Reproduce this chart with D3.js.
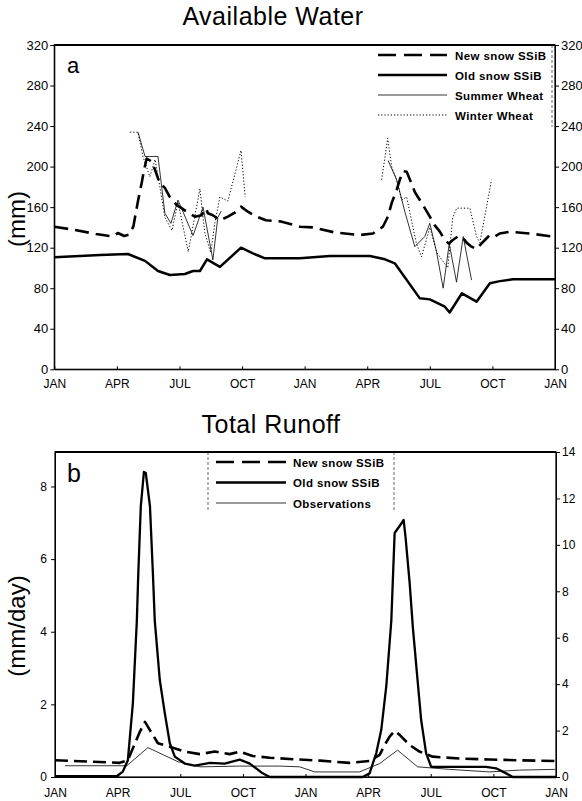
<!DOCTYPE html>
<html>
<head>
<meta charset="utf-8">
<script src="https://cdn.jsdelivr.net/npm/d3@7"></script>
<style>
  body { margin: 0; background: #fff; }
  svg { display: block; }
  text { fill: #000; }
</style>
</head>
<body>
<svg id="chart" width="582" height="801"></svg>
<script>
// ---------- DATA (month index 0 = JAN of year 1, 24 = JAN of year 3) ----------
const monthLabels = ["JAN","APR","JUL","OCT","JAN","APR","JUL","OCT","JAN"];
const monthTicks  = [0,3,6,9,12,15,18,21,24];
const awTicks     = [0,40,80,120,160,200,240,280,320];
const roLeftTicks = [0,2,4,6,8];
const roRightTicks= [0,2,4,6,8,10,12,14];

// Panel a: Available Water (mm)
const awNewSnow = [[0,140.7],[1,137.5],[2,133.5],[2.8,131],[3.05,134.5],[3.35,131.5],[3.6,133],[3.79,141],[4.02,167],[4.19,184],[4.30,196.6],[4.43,208],[4.67,205],[4.83,196.6],[5.06,183.5],[5.30,179],[5.54,170],[5.87,162],[6.10,159],[6.42,154.5],[6.74,150.6],[7.06,152],[7.27,159],[7.36,154],[7.60,152],[7.94,147],[8.32,150.6],[8.65,154.5],[8.95,160.5],[9.28,155.5],[9.66,151],[10.14,147],[10.81,146],[11.78,140.7],[12.40,140],[13.45,135],[14.65,132.5],[15.27,134],[15.75,140.7],[15.99,150.6],[16.17,164],[16.41,177],[16.56,187],[16.71,195.6],[16.89,195],[17.12,183.5],[17.28,175],[17.52,167],[17.76,159],[18.00,150.6],[18.24,142],[18.48,135.8],[18.72,127.6],[18.91,124],[19.10,127.6],[19.34,131],[19.58,130],[19.76,125],[20.00,121],[20.24,118.7],[20.48,124.3],[20.64,127.6],[20.88,132.5],[21.12,131],[21.35,134],[21.84,135.8],[22.79,134],[23.90,131],[24,130]];
const awOldSnow = [[0,110.5],[2.19,112.8],[3.53,113.8],[4.35,107],[4.97,97],[5.54,93],[6.26,94],[6.65,97],[6.98,97],[7.32,108.5],[7.94,101],[8.95,120],[9.52,114.4],[10.10,109.5],[11.77,109.5],[13.21,111.8],[15.13,111.8],[15.85,108.5],[16.32,104.6],[17.52,70],[18.00,69],[18.72,61.8],[18.95,56],[19.54,75],[20.24,66.7],[20.88,85],[21.36,87],[21.98,88.8],[24,88.8]];
const awSummerWheat1 = [[4.01,234],[4.35,210],[4.97,210],[5.30,154],[5.59,144],[5.93,167],[6.65,132],[7.13,160],[7.60,108],[7.84,150],[8.0,156]];
const awSummerWheat2 = [[16.00,206],[16.41,187],[16.81,155],[17.28,121],[17.76,131],[18.00,144],[18.32,116],[18.64,80],[18.93,124],[19.28,86],[19.60,131],[20.00,88]];
const awWinterWheat1 = [[3.63,234],[4.01,234],[4.25,210],[4.58,190],[4.83,207],[5.06,180],[5.30,150],[5.64,137],[5.93,165],[6.42,116],[6.98,178],[7.21,135],[7.50,115],[7.70,145],[7.94,170],[8.32,166],[8.95,216],[9.15,170]];
const awWinterWheat2 = [[15.69,187],[15.98,228],[16.17,200],[16.41,187],[16.65,167],[16.89,170],[17.12,147],[17.36,124],[17.60,111],[18.00,140],[18.34,115],[18.86,100],[19.10,150],[19.29,159],[19.92,159],[20.24,131],[20.40,125],[20.96,187]];

// Panel b: Total Runoff (mm/day)
const roNewSnow = [[0,0.46],[3.1,0.39],[3.49,0.46],[3.73,0.79],[4.07,1.25],[4.31,1.52],[4.55,1.29],[4.93,0.93],[5.50,0.83],[6.22,0.70],[6.94,0.63],[7.66,0.70],[8.37,0.63],[8.85,0.70],[9.47,0.58],[10.29,0.53],[11.72,0.48],[12.70,0.45],[14.11,0.39],[15.07,0.44],[15.55,0.61],[15.79,0.88],[16.03,1.11],[16.27,1.27],[16.51,1.16],[16.99,0.88],[17.46,0.70],[18.09,0.56],[19.38,0.51],[20.81,0.48],[22.25,0.46],[24,0.44]];
const roOldSnow = [[0,0.02],[2.96,0.02],[3.25,0.15],[3.49,0.46],[3.73,2.03],[3.92,4.3],[3.99,5.6],[4.11,7.45],[4.26,8.4],[4.35,8.37],[4.55,7.45],[4.69,5.6],[4.78,4.3],[5.02,2.67],[5.26,1.76],[5.50,0.93],[5.74,0.56],[6.22,0.37],[6.70,0.31],[7.42,0.39],[8.13,0.37],[8.85,0.48],[9.33,0.37],[9.90,0.12],[10.29,0.0],[14.74,0.0],[15.07,0.1],[15.39,0.66],[15.63,1.3],[15.87,2.5],[16.11,4.3],[16.27,6.72],[16.43,6.85],[16.59,6.98],[16.70,7.08],[16.79,6.62],[16.99,5.34],[17.14,4.14],[17.31,3.04],[17.54,1.57],[17.78,0.65],[18.02,0.28],[19.50,0.28],[20.65,0.28],[21.13,0.24],[21.61,0.1],[21.93,0.0],[24,0.0]];
const roObserved = [[0.48,0.31],[3.44,0.31],[4.45,0.81],[5.89,0.42],[6.94,0.28],[8.85,0.30],[10.77,0.30],[11.72,0.28],[12.44,0.14],[14.59,0.14],[15.55,0.37],[16.41,0.74],[17.37,0.28],[18.90,0.21],[20.81,0.14],[22.25,0.19],[23.97,0.21]];

const legendA = ["New snow SSiB","Old snow SSiB","Summer Wheat","Winter Wheat"];
const legendB = ["New snow SSiB","Old snow SSiB","Observations"];

// ---------- DRAWING ----------
const svg = d3.select("#chart");
const sans = "'Liberation Sans', Arial, sans-serif";
const narrow = "'Liberation Sans Narrow', 'Arial Narrow', 'Liberation Sans', sans-serif";

const styles = {
  newSnow: {w: 2.6, dash: "14,7"},
  oldSnow: {w: 2.5, dash: null},
  summer:  {w: 0.8, dash: null},
  winter:  {w: 1.0, dash: "1.2,2"},
  obs:     {w: 0.8, dash: null}
};

function styleAxis(g, size) {
  g.selectAll("text").attr("font-family", sans).attr("font-size", size).attr("fill", "#000");
  g.selectAll("line").attr("stroke", "#000");
  g.select(".domain").attr("stroke", "#000");
}

function drawLine(g, data, x, y, st) {
  const line = d3.line().x(d => x(d[0])).y(d => y(d[1]));
  g.append("path").datum(data).attr("d", line)
    .attr("fill", "none").attr("stroke", "#000")
    .attr("stroke-width", st.w)
    .attr("stroke-linejoin", "round")
    .attr("stroke-dasharray", st.dash);
}

// ---- Panel a ----
const xA = d3.scaleLinear().domain([0,24]).range([54.3,555]);
const yA = d3.scaleLinear().domain([0,320]).range([369.3,45]);

svg.append("text").attr("x", 273).attr("y", 25).attr("text-anchor","middle")
  .attr("font-family", sans).attr("font-size", 25).attr("letter-spacing", 0.5).text("Available Water");

const gA = svg.append("g");
drawLine(gA, awNewSnow, xA, yA, styles.newSnow);
drawLine(gA, awOldSnow, xA, yA, styles.oldSnow);
drawLine(gA, awSummerWheat1, xA, yA, styles.summer);
drawLine(gA, awSummerWheat2, xA, yA, styles.summer);
drawLine(gA, awWinterWheat1, xA, yA, styles.winter);
drawLine(gA, awWinterWheat2, xA, yA, styles.winter);

svg.append("rect").attr("x", xA(0)).attr("y", yA(320)).attr("width", xA(24)-xA(0)).attr("height", yA(0)-yA(320))
  .attr("fill","none").attr("stroke","#000").attr("stroke-width",1.2);
svg.append("line").attr("x1", xA(0)).attr("x2", xA(24)).attr("y1", yA(320)).attr("y2", yA(320)).attr("stroke","#000").attr("stroke-width",2);

const axLA = svg.append("g").attr("transform", `translate(${xA(0)},0)`)
  .call(d3.axisLeft(yA).tickValues(awTicks).tickSize(4).tickSizeOuter(0).tickPadding(2));
styleAxis(axLA, 12);
axLA.selectAll("text").attr("font-family", narrow).attr("font-size", 13);
const axRA = svg.append("g").attr("transform", `translate(${xA(24)},0)`)
  .call(d3.axisRight(yA).tickValues(awTicks).tickSize(4).tickSizeOuter(0).tickPadding(2));
styleAxis(axRA, 12);
axRA.selectAll("text").attr("font-family", narrow).attr("font-size", 13);
const axBA = svg.append("g").attr("transform", `translate(0,${yA(0)})`)
  .call(d3.axisBottom(xA).tickValues(monthTicks).tickFormat((d,i)=>monthLabels[i]).tickSize(-3).tickSizeOuter(0).tickPadding(10));
styleAxis(axBA, 12);
axBA.selectAll("text").attr("font-family", narrow);

svg.append("text").attr("transform","translate(25,219) rotate(-90)").attr("text-anchor","middle")
  .attr("font-family", sans).attr("font-size", 24).text("(mm)");
svg.append("text").attr("x", 67).attr("y", 73).attr("font-family", sans).attr("font-size", 22).text("a");

// legend a
const legAStyles = [styles.newSnow, styles.oldSnow, styles.summer, styles.winter];
legendA.forEach((t,i) => {
  const cy = 55 + i*20;
  const st = legAStyles[i];
  svg.append("line").attr("x1",378).attr("x2",447).attr("y1",cy).attr("y2",cy)
    .attr("stroke","#000").attr("stroke-width", st.w)
    .attr("stroke-dasharray", i===0 ? "18,8" : st.dash);
  svg.append("text").attr("x",455).attr("y",cy+4.5).attr("font-family", sans)
    .attr("font-size", 11.5).attr("font-weight","bold").attr("letter-spacing",0.4).text(t);
});
svg.append("line").attr("x1",552).attr("x2",552).attr("y1",45).attr("y2",127)
  .attr("stroke","#000").attr("stroke-width",0.6).attr("stroke-dasharray","3,2");

// ---- Panel b ----
const xB = d3.scaleLinear().domain([0,24]).range([55,556]);
const yBL = d3.scaleLinear().domain([0,8.95]).range([777,452]);
const yBR = d3.scaleLinear().domain([0,14]).range([777,452]);

svg.append("text").attr("x", 271).attr("y", 433).attr("text-anchor","middle")
  .attr("font-family", sans).attr("font-size", 25).attr("letter-spacing", 0.5).text("Total Runoff");

const gB = svg.append("g");
drawLine(gB, roObserved, xB, yBL, styles.obs);
drawLine(gB, roNewSnow, xB, yBL, {w: 2.6, dash: "13,6"});
drawLine(gB, roOldSnow, xB, yBL, {w: 2.3, dash: null});

svg.append("rect").attr("x", xB(0)).attr("y", 452).attr("width", xB(24)-xB(0)).attr("height", 777-452)
  .attr("fill","none").attr("stroke","#000").attr("stroke-width",1.2);
svg.append("line").attr("x1", xB(0)).attr("x2", xB(24)).attr("y1", 452).attr("y2", 452).attr("stroke","#000").attr("stroke-width",2);

const axLB = svg.append("g").attr("transform", `translate(${xB(0)},0)`)
  .call(d3.axisLeft(yBL).tickValues(roLeftTicks).tickSize(4).tickSizeOuter(0).tickPadding(4));
styleAxis(axLB, 12);
axLB.selectAll("text").attr("font-family", narrow);
const axRB = svg.append("g").attr("transform", `translate(${xB(24)},0)`)
  .call(d3.axisRight(yBR).tickValues(roRightTicks).tickSize(4).tickSizeOuter(0).tickPadding(2));
styleAxis(axRB, 12);
axRB.selectAll("text").attr("font-family", narrow);
const axBB = svg.append("g").attr("transform", `translate(0,777)`)
  .call(d3.axisBottom(xB).tickValues(monthTicks).tickFormat((d,i)=>monthLabels[i]).tickSize(-3).tickSizeOuter(0).tickPadding(11));
styleAxis(axBB, 12);
axBB.selectAll("text").attr("font-family", narrow);

svg.append("text").attr("transform","translate(25,626) rotate(-90)").attr("text-anchor","middle")
  .attr("font-family", sans).attr("font-size", 24).text("(mm/day)");
svg.append("text").attr("x", 67).attr("y", 482).attr("font-family", sans).attr("font-size", 25).text("b");

// legend b
const legBStyles = [{w:2.6,dash:"18,8"},{w:2.5,dash:null},{w:0.8,dash:null}];
legendB.forEach((t,i) => {
  const cy = 462 + i*20.5;
  const st = legBStyles[i];
  svg.append("line").attr("x1",216).attr("x2",286).attr("y1",cy).attr("y2",cy)
    .attr("stroke","#000").attr("stroke-width", st.w).attr("stroke-dasharray", st.dash);
  svg.append("text").attr("x",293).attr("y",cy+4.5).attr("font-family", sans)
    .attr("font-size", 11.5).attr("font-weight","bold").attr("letter-spacing",0.4).text(t);
});
[208, 394].forEach(xx => svg.append("line").attr("x1",xx).attr("x2",xx).attr("y1",452).attr("y2",512)
  .attr("stroke","#000").attr("stroke-width",0.6).attr("stroke-dasharray","3,2"));
</script>
</body>
</html>
